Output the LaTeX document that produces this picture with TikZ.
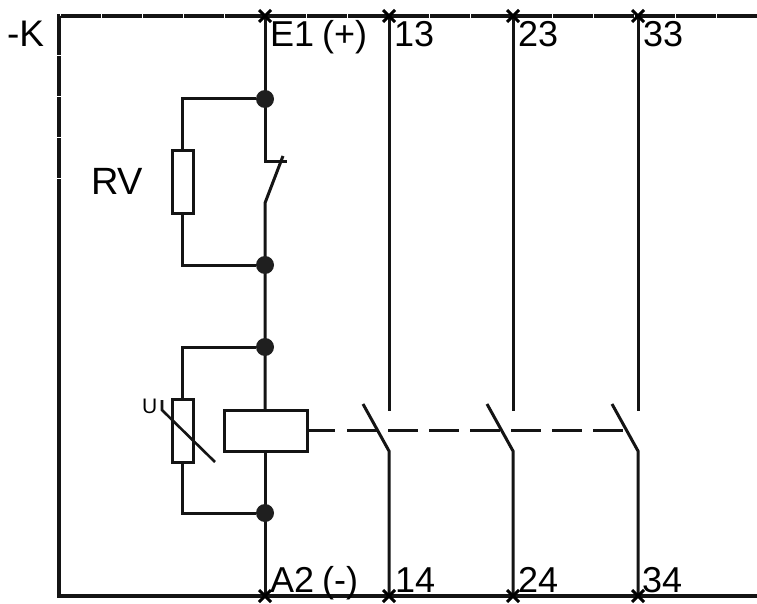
\documentclass[tikz,border=0pt]{standalone}
\usepackage{fontspec}
\setmainfont{Liberation Sans}
\tikzset{
  wire/.style={line width=3pt,black!92},
  frameline/.style={line width=3.2pt,black!92,dash pattern=on 40.5pt off 0.5pt},
  box/.style={draw=black!92,line width=3pt,fill=white,inner sep=0pt,outer sep=0pt},
  dotnode/.style={circle,fill=black!88,minimum size=18pt,inner sep=0pt,outer sep=0pt},
  lbl/.style={anchor=base west,inner sep=0pt,outer sep=0pt,font=\fontsize{36pt}{36pt}\selectfont},
  xmark/.style={line width=3pt,black}
}
\begin{document}
\begin{tikzpicture}[x=1pt,y=-1pt]
\useasboundingbox (0,0) rectangle (757,604);
% coordinates
\coordinate (tl) at (59,16);
\coordinate (bl) at (59,596);
\coordinate (tr) at (757,16);
\coordinate (br) at (757,596);
\foreach \n/\x in {e/265,a/389,b/513,c/638}{
  \coordinate (t\n) at (\x,16);
  \coordinate (b\n) at (\x,596);
}
% frame
\draw[frameline] (tr) -- (tl) -- (bl) -- (br);
% main vertical, switch
\coordinate (swtop) at (265,162);
\coordinate (swbot) at (265,203);
\coordinate (swend) at (287,162);
\coordinate (swtip) at (283,156);
\draw[wire] (te) -- (swtop) -- (swend);
\draw[wire] (swtip) -- (swbot) -- (265,410);
\draw[wire] (265,451) -- (be);
\node[dotnode] (d1) at (265,99) {};
\node[dotnode] (d2) at (265,265) {};
\node[dotnode] (d3) at (265,347) {};
\node[dotnode] (d4) at (265,513) {};
% RV
\node[box,minimum width=21pt,minimum height=62pt] (rv) at (182.5,182) {};
\draw[wire] (d1) -| (rv.north);
\draw[wire] (d2) -| (rv.south);
% varistor
\node[box,minimum width=21pt,minimum height=63pt] (var) at (182.5,430.5) {};
\draw[wire] (d3) -| (var.north);
\draw[wire] (d4) -| (var.south);
\coordinate (vs) at (162,410);
\coordinate (vh) at (162,400);
\coordinate (ve) at (215,462);
\draw[line width=2.6pt,black!92] (vh) -- (vs) -- (ve);
% coil
\node[box,minimum width=83pt,minimum height=41pt] (coil) at (265.5,430.5) {};
% contacts
\foreach \n/\x in {a/389,b/513,c/638}{
  \coordinate (up\n) at (\x,411);
  \coordinate (pv\n) at (\x,451);
  \coordinate (tp\n) at (\x-26,404);
  \draw[wire] (t\n) -- (up\n);
  \draw[wire] (b\n) -- (pv\n) -- (tp\n);
}
% mechanical link
\coordinate (la) at (335,430);
\coordinate (lb) at (347,430);
\coordinate (lc) at (624,430);
\draw[wire] (coil.east |- la) -- (la);
\draw[wire,dash pattern=on 30pt off 11pt] (lb) -- (lc);
% crosses
\foreach \n in {te,ta,tb,tc,be,ba,bb,bc}{
  \draw[xmark] ([shift={(-6,-6)}]\n) -- ([shift={(6,6)}]\n);
  \draw[xmark] ([shift={(-6,6)}]\n) -- ([shift={(6,-6)}]\n);
}
% labels
\node[lbl,font=\fontsize{37pt}{37pt}\selectfont] (k) at (7,47) {-K};
\node[lbl] (e1) at (270,47) {E1\hspace{8pt}(+)};
\node[lbl] (n13) at (394,47) {13};
\node[lbl] (n23) at (518,47) {23};
\node[lbl] (n33) at (643,47) {33};
\node[lbl] (a2) at (270,592) {A2\hspace{8pt}(-)};
\node[lbl] (n14) at (395,592) {14};
\node[lbl] (n24) at (518,592) {24};
\node[lbl] (n34) at (642,592) {34};
\node[lbl,font=\fontsize{38pt}{38pt}\selectfont] (rvl) at (91,195) {RV};
\node[lbl,font=\fontsize{21pt}{21pt}\selectfont] (ul) at (142,413) {U};
\end{tikzpicture}
\end{document}
